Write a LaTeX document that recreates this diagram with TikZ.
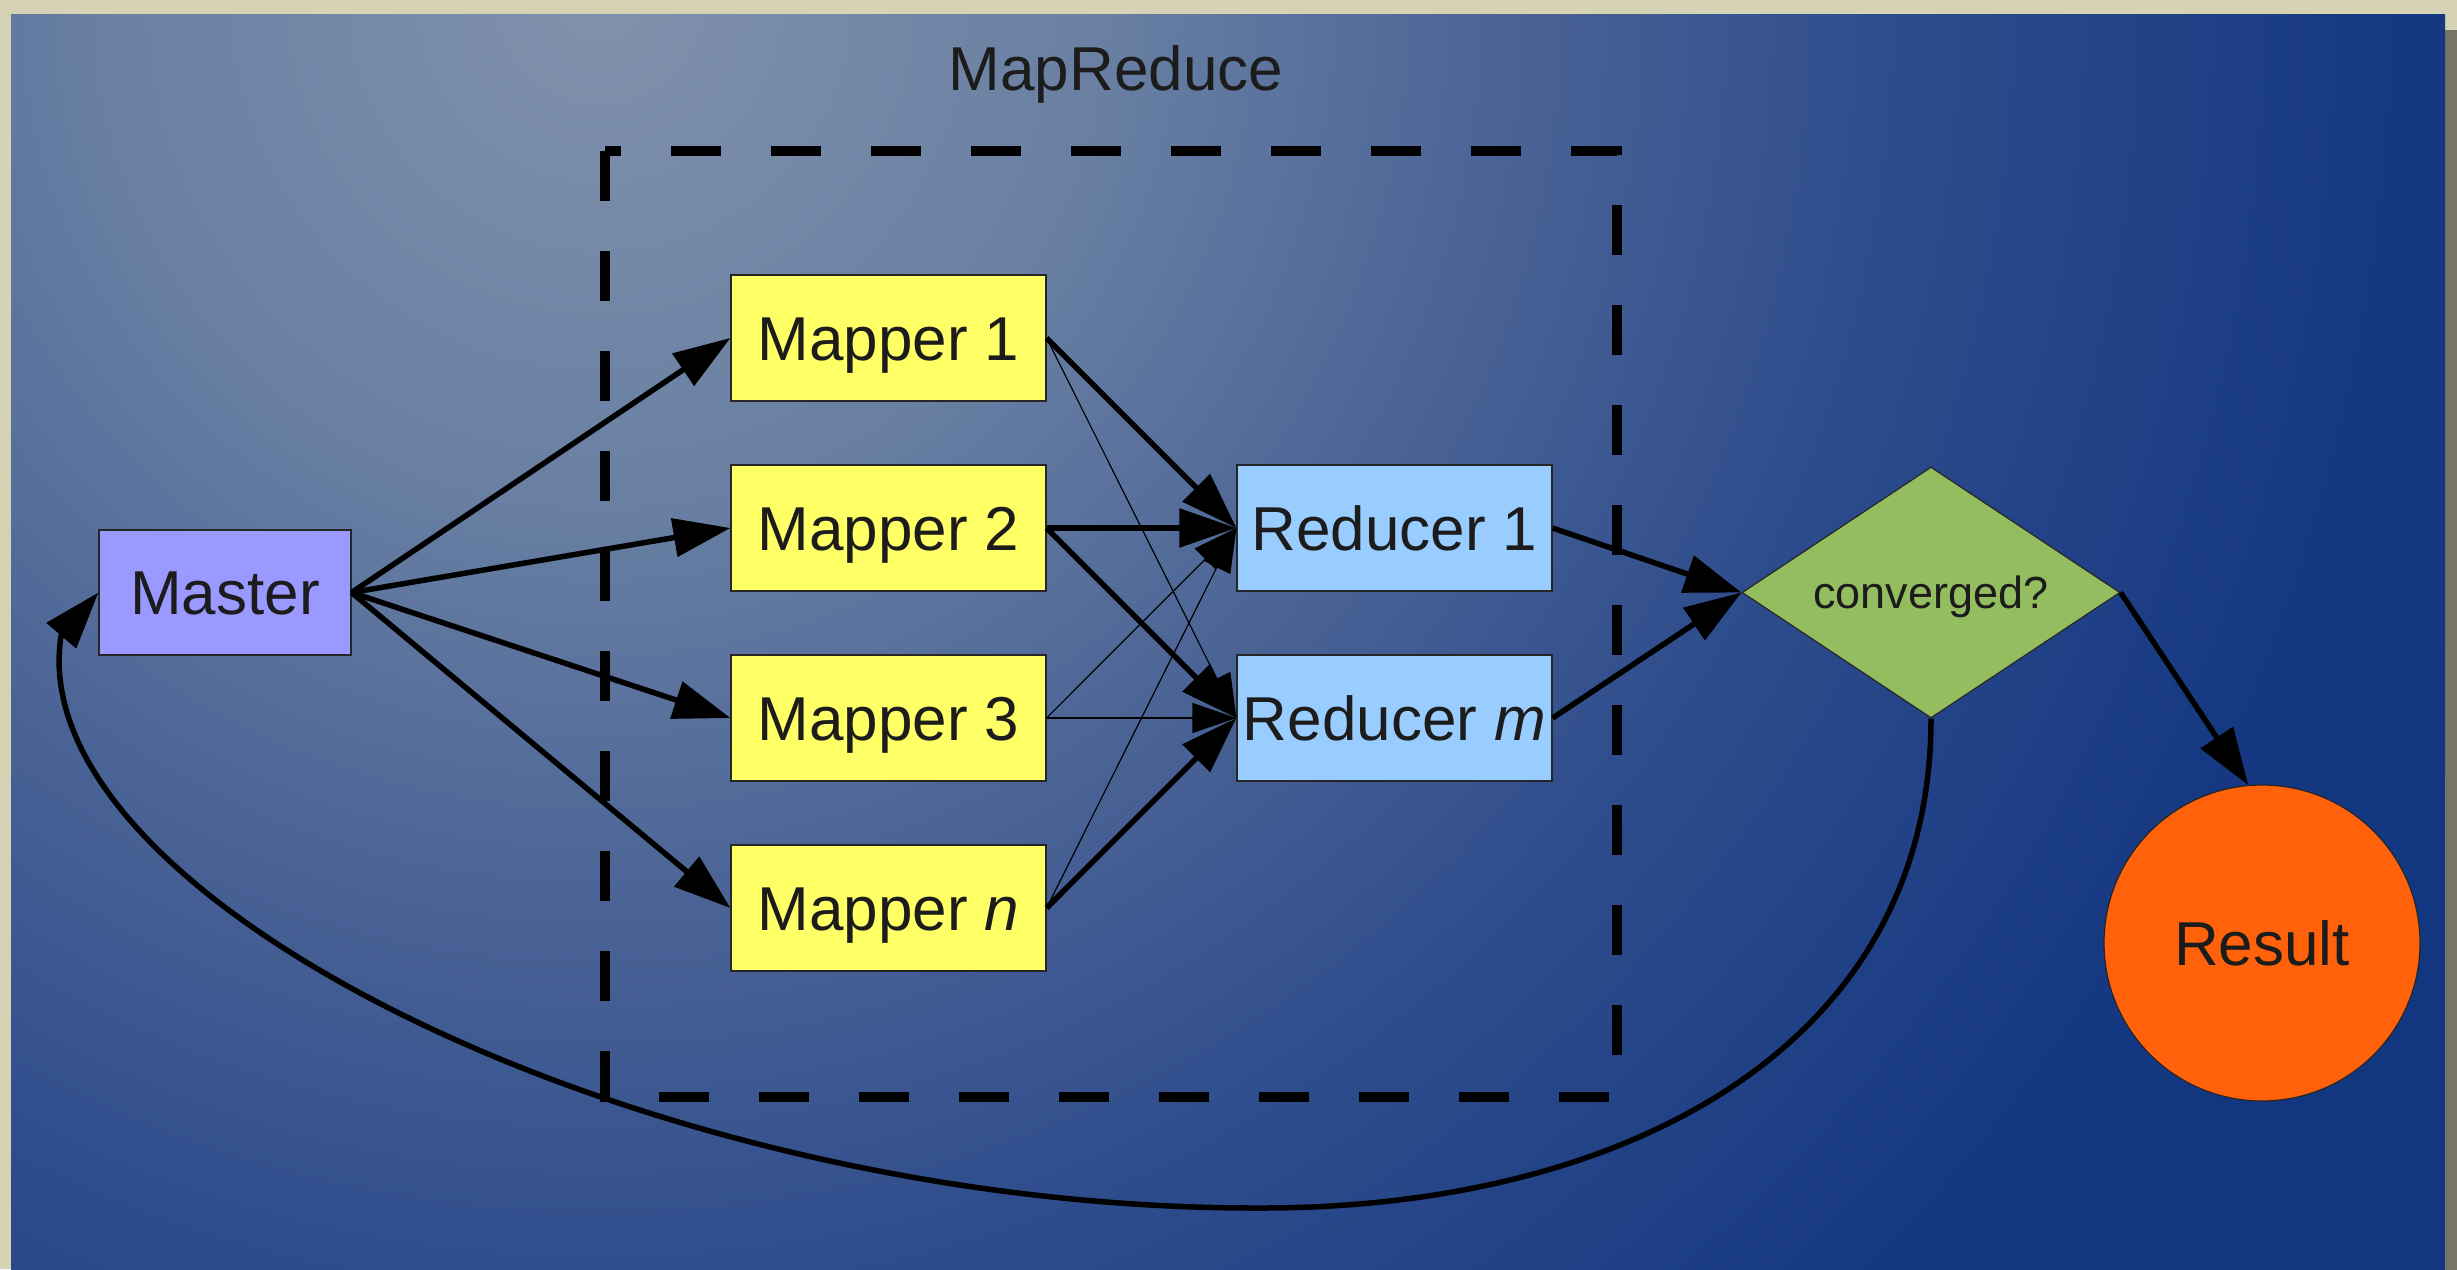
\documentclass[tikz,border=0pt]{standalone}
\usepackage{fontspec}
\setmainfont{Liberation Sans}
\usetikzlibrary{arrows.meta,shapes.geometric}

\definecolor{frameBeige}{RGB}{214,210,180}
\definecolor{frameGrey}{RGB}{118,116,98}
\definecolor{bgA}{RGB}{128,145,172}
\definecolor{bgB}{RGB}{105,128,163}
\definecolor{bgC}{RGB}{75,100,150}
\definecolor{bgD}{RGB}{45,76,140}
\definecolor{bgE}{RGB}{22,56,130}
\definecolor{bgF}{RGB}{18,54,128}
\definecolor{masterFill}{RGB}{153,153,255}
\definecolor{mapperFill}{RGB}{255,255,102}
\definecolor{reducerFill}{RGB}{153,204,255}
\definecolor{testFill}{RGB}{148,189,96}
\definecolor{resultFill}{RGB}{255,98,10}
\definecolor{ink}{RGB}{28,28,28}

% glow of the backdrop; 1bp of the shading spans 80pt on a 2000pt circle
\pgfdeclareradialshading{panelglow}{\pgfpoint{0bp}{0bp}}{%
  color(0bp)=(bgA); color(6.25bp)=(bgB); color(11.25bp)=(bgC);
  color(16.25bp)=(bgD); color(22.5bp)=(bgE); color(25bp)=(bgF);
  color(50bp)=(bgF)}

\newcommand\diagfont{\fontsize{62pt}{70pt}\selectfont}
\newcommand\testfont{\fontsize{45pt}{52pt}\selectfont}

\tikzset{
  box/.style={draw=black!85, line width=1.2pt, inner sep=0pt,
    minimum width=315pt, minimum height=126pt, text=ink,
    font=\diagfont, text height=44pt, text depth=0pt},
  mapperbox/.style={box, fill=mapperFill},
  reducerbox/.style={box, fill=reducerFill},
  masterbox/.style={box, fill=masterFill, minimum width=252pt, minimum height=125pt},
  testbox/.style={shape=diamond, aspect=1.5, draw=black!85, line width=1.2pt,
    fill=testFill, inner sep=0pt, minimum width=378pt, minimum height=251pt,
    text=ink, font=\testfont, text height=32pt, text depth=0pt},
  resultbox/.style={shape=circle, draw=black!85, line width=1.2pt,
    fill=resultFill, inner sep=0pt, minimum size=316pt, text=ink,
    font=\diagfont, text height=44pt, text depth=0pt},
  flow/.style={draw=black, line width=5.5pt, -{Triangle[length=57pt,width=38pt]}},
  thinflow/.style={draw=black, line width=1.2pt, -{Triangle[length=44pt,width=30pt]}},
  groupframe/.style={draw=black, line width=10pt, dash pattern=on 50pt off 50pt},
}

\begin{document}
\begin{tikzpicture}[x=1pt, y=-1pt]
  \useasboundingbox (0,0) rectangle (2457,1269);

  % textured frame and backdrop panel
  \fill[frameBeige] (0,0) rectangle (2457,1269);
  \fill[frameGrey] (2445,30) rectangle (2457,1280);
  \begin{scope}
    \clip (11,14) rectangle (2445,1280);
    \fill[bgF] (11,14) rectangle (2445,1280);
    \shade[shading=panelglow] (600,0) circle[radius=2000pt];
  \end{scope}

  % MapReduce group
  \node[font=\diagfont, text=ink, anchor=base, inner sep=0pt] (title) at (1116,90) {MapReduce};
  \draw[groupframe] (605,151) rectangle (1617,1097);

  % nodes
  \node[masterbox] (master) at (225,592.5) {Master};
  \node[mapperbox] (m1) at (888.5,338) {Mapper 1};
  \node[mapperbox] (m2) at (888.5,528) {Mapper 2};
  \node[mapperbox] (m3) at (888.5,718) {Mapper 3};
  \node[mapperbox] (mn) at (888.5,908) {Mapper \textit{n}};
  \node[reducerbox] (r1) at (1394.5,528) {Reducer 1};
  \node[reducerbox] (rm) at (1394.5,718) {Reducer \textit{m}};
  \node[testbox] (conv) at (1931,592.5) {converged?};
  \node[resultbox] (result) at (2262,943) {Result};
  \coordinate (loopbottom) at (1262,1208);
  \coordinate (loopturn) at (61,636);

  % master distributes work to the mappers
  \draw[flow] (master.east) -- (m1.west);
  \draw[flow] (master.east) -- (m2.west);
  \draw[flow] (master.east) -- (m3.west);
  \draw[flow] (master.east) -- (mn.west);

  % shuffle: minor routes
  \draw[thinflow] (m1.east) -- (rm.west);
  \draw[thinflow] (m3.east) -- (r1.west);
  \draw[thinflow] (m3.east) -- (rm.west);
  \draw[thinflow] (mn.east) -- (r1.west);
  % shuffle: main routes
  \draw[flow] (m1.east) -- (r1.west);
  \draw[flow] (m2.east) -- (r1.west);
  \draw[flow] (m2.east) -- (rm.west);
  \draw[flow] (mn.east) -- (rm.west);

  % reducers feed the convergence test
  \draw[flow] (r1.east) -- (conv.west);
  \draw[flow] (rm.east) -- (conv.west);
  \draw[flow] (conv.east) -- (result.95);

  % iterate again when not converged
  \draw[flow] (conv.south) .. controls (1931,1050) and (1620,1208) .. (loopbottom)
    .. controls (650,1210) and (20,900) .. (loopturn) -- (master.west);
\end{tikzpicture}
\end{document}
